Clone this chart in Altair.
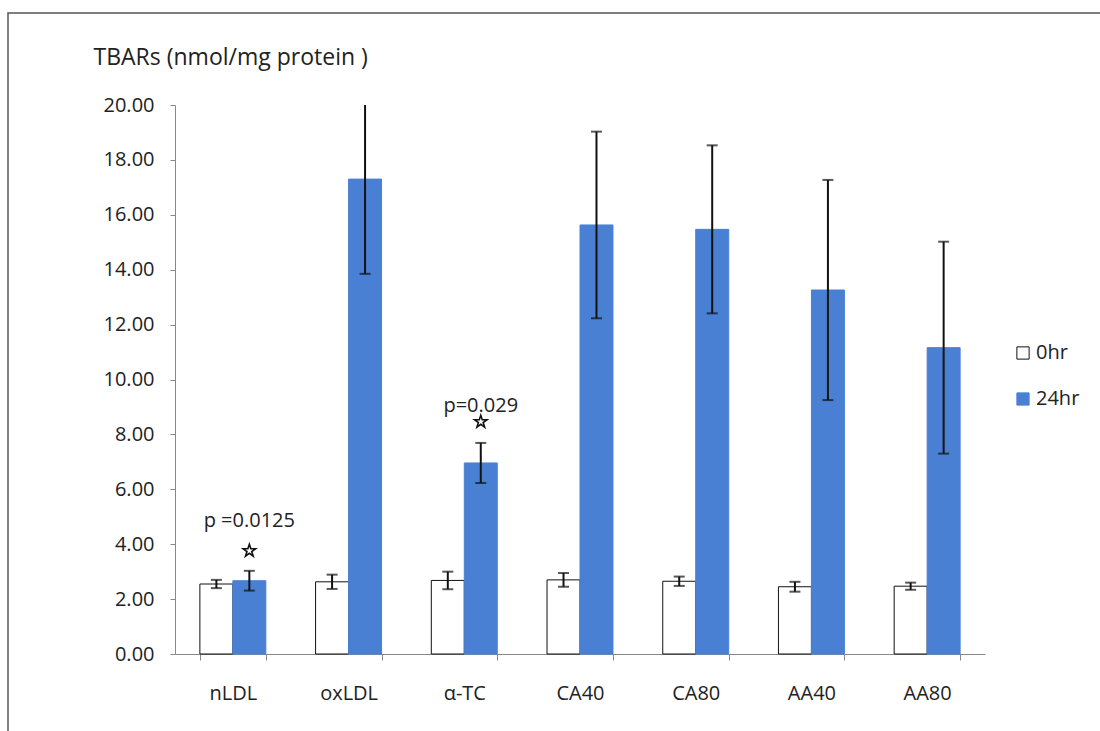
import altair as alt
import pandas as pd

categories = ["nLDL", "oxLDL", "α-TC", "CA40", "CA80", "AA40", "AA80"]
series = ["0hr", "24hr"]
mean_0hr = [2.55, 2.63, 2.68, 2.70, 2.65, 2.45, 2.47]
err_0hr = [0.15, 0.26, 0.32, 0.25, 0.17, 0.18, 0.13]
mean_24hr = [2.67, 17.30, 6.96, 15.63, 15.47, 13.26, 11.16]
err_24hr = [0.36, 3.45, 0.73, 3.40, 3.06, 4.01, 3.86]

ann_cat = ["nLDL", "α-TC"]
ann_text = ["p =0.0125", "p=0.029"]
ann_text_y = [4.85, 9.05]
ann_star_y = [3.76, 8.46]

YMAX = 20
rows = []
for i, c in enumerate(categories):
    for s, m, e in (("0hr", mean_0hr, err_0hr), ("24hr", mean_24hr, err_24hr)):
        rows.append({"cat": c, "series": s, "value": m[i],
                     "lo": m[i] - e[i], "hi": min(YMAX, m[i] + e[i]),
                     "hi_raw": m[i] + e[i]})
df = pd.DataFrame(rows)
ann = pd.DataFrame({"cat": ann_cat, "series": ["24hr", "24hr"], "text": ann_text,
                    "ty": ann_text_y, "sy": ann_star_y})

FONT = "Open Sans"
BLUE = "#4a80d4"
STAR = ("M0,-1 L0.2245,-0.309 L0.951,-0.309 L0.363,0.118 L0.588,0.809 "
        "L0,0.382 L-0.588,0.809 L-0.363,0.118 L-0.951,-0.309 L-0.2245,-0.309 Z")

xenc = alt.X("cat:N", sort=categories, title=None,
             scale=alt.Scale(paddingInner=0.43, paddingOuter=0.215),
             axis=alt.Axis(labelAngle=0, labelFontSize=20, labelFont=FONT, labelColor="#222",
                           tickBand="extent", tickSize=6, tickColor="#888", domainColor="#888",
                           labelPadding=23))
xoff = alt.XOffset("series:N", sort=series, scale=alt.Scale(paddingInner=0))
yscale = alt.Scale(domain=[0, YMAX], nice=False)

legend = alt.Legend(title=None, orient="none", legendX=838, legendY=238,
                    symbolType="square", symbolSize=150, symbolStrokeWidth=1,
                    labelFontSize=20, labelFont=FONT, labelColor="#222",
                    rowPadding=26, labelOffset=3)

base = alt.Chart(df)

bars = base.mark_bar(strokeWidth=1).encode(
    x=xenc,
    xOffset=xoff,
    y=alt.Y("value:Q", scale=yscale,
            axis=alt.Axis(values=list(range(0, 21, 2)), format=".2f", grid=False,
                          tickSize=5, tickColor="#888", domainColor="#888",
                          labelFontSize=20, labelFont=FONT, labelColor="#222", labelPadding=16,
                          title="TBARs (nmol/mg protein )", titleAngle=0, titleAlign="left",
                          titleBaseline="middle", titleX=-82, titleY=-48,
                          titleFontSize=23, titleFont=FONT, titleFontWeight="normal",
                          titleColor="#222")),
    color=alt.Color("series:N", sort=series,
                    scale=alt.Scale(domain=series, range=["white", BLUE]),
                    legend=legend),
    stroke=alt.Stroke("series:N", sort=series,
                      scale=alt.Scale(domain=series, range=["#111", BLUE]),
                      legend=legend),
)

rules = base.mark_rule(color="#111", strokeWidth=2).encode(
    x=alt.X("cat:N", sort=categories), xOffset=xoff,
    y=alt.Y("lo:Q", scale=yscale), y2="hi:Q")

caps_lo = base.mark_tick(color="#111", thickness=2, size=11).encode(
    x=alt.X("cat:N", sort=categories), xOffset=xoff,
    y=alt.Y("lo:Q", scale=yscale))

caps_hi = base.transform_filter(alt.datum.hi_raw <= YMAX).mark_tick(
    color="#111", thickness=2, size=11).encode(
    x=alt.X("cat:N", sort=categories), xOffset=xoff,
    y=alt.Y("hi:Q", scale=yscale))

ann_base = alt.Chart(ann)
ptext = ann_base.mark_text(fontSize=20, font=FONT, color="#222", baseline="middle").encode(
    x=alt.X("cat:N", sort=categories), xOffset=alt.XOffset("series:N", sort=series),
    y=alt.Y("ty:Q", scale=yscale), text="text:N")
stars = ann_base.mark_point(shape=STAR, size=170, filled=False, color="#111",
                            strokeWidth=1.6, strokeJoin="miter", opacity=1).encode(
    x=alt.X("cat:N", sort=categories), xOffset=alt.XOffset("series:N", sort=series),
    y=alt.Y("sy:Q", scale=yscale))

frame = alt.Chart(pd.DataFrame({"a": [0]})).mark_rect(
    fill=None, stroke="#555", strokeWidth=1.5).encode(
    x=alt.value(-167), x2=alt.value(960), y=alt.value(-92), y2=alt.value(680))

chart = alt.layer(frame, bars, rules, caps_lo, caps_hi, ptext, stars).properties(
    width=810, height=549,
    autosize=alt.AutoSizeParams(type="none"),
    padding={"left": 175, "top": 105, "right": 115, "bottom": 77},
    background="white",
).configure_view(stroke=None)

chart.save("out.html", embed_options={"renderer": "svg", "actions": False})
